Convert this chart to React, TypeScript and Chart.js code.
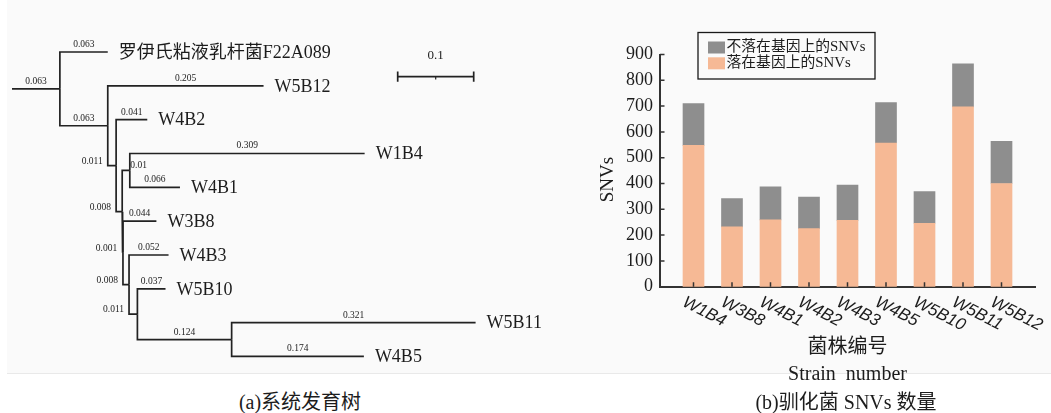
import React, { useEffect, useRef } from 'react';
import { Chart, registerables } from 'chart.js';
Chart.register(...registerables);

// ---------- Phylogenetic tree (a) ----------
const treeNodes = [
  'root', 'n1', '罗伊氏粘液乳杆菌F22A089', 'n2', 'W5B12', 'n3', 'W4B2', 'n4', 'n5',
  'W1B4', 'W4B1', 'n6', 'W3B8', 'n7', 'W4B3', 'n8', 'W5B10', 'n9', 'W5B11', 'W4B5',
];
const treeParents = [-1, 0, 1, 1, 3, 3, 5, 5, 7, 8, 8, 7, 11, 11, 13, 13, 15, 15, 17, 17];
const branchLengths = [
  0, 0.063, 0.063, 0.063, 0.205, 0.011, 0.041, 0.008, 0.01,
  0.309, 0.066, 0.001, 0.044, 0.008, 0.052, 0.011, 0.037, 0.124, 0.321, 0.174,
];
const branchLabelSide = [
  'none', 'above', 'above', 'above', 'above', 'left', 'above', 'left', 'right',
  'above', 'above', 'left', 'above', 'left', 'above', 'left', 'above', 'above', 'above', 'above',
];
const scaleBarLength = 0.1;

// ---------- SNV bar chart (b) ----------
const strains = ['W1B4', 'W3B8', 'W4B1', 'W4B2', 'W4B3', 'W4B5', 'W5B10', 'W5B11', 'W5B12'];
const genicSNVs = [548, 232, 259, 225, 257, 557, 246, 697, 400];
const nonGenicSNVs = [162, 110, 128, 122, 137, 157, 123, 167, 163];
const yMax = 900;
const yStep = 100;

const SERIF = '"Liberation Serif", "Noto Sans CJK SC", serif';
const INK = '#1c1c1c';

function layoutTree() {
  const n = treeNodes.length;
  const children: number[][] = treeNodes.map(() => []);
  treeParents.forEach((p, i) => { if (p >= 0) children[p].push(i); });
  const nx: number[] = new Array(n).fill(0);
  const ny: number[] = new Array(n).fill(0);
  for (let i = 0; i < n; i++) {
    const p = treeParents[i];
    nx[i] = p < 0 ? 0 : nx[p] + branchLengths[i];
  }
  let k = 0;
  for (let i = 0; i < n; i++) if (children[i].length === 0) ny[i] = k++;
  for (let i = n - 1; i >= 0; i--) {
    if (children[i].length) {
      const ys = children[i].map((c) => ny[c]);
      ny[i] = (Math.min(...ys) + Math.max(...ys)) / 2;
    }
  }
  return { children, nx, ny };
}

function TreeChart() {
  const ref = useRef<HTMLCanvasElement | null>(null);
  useEffect(() => {
    const { children, nx, ny } = layoutTree();
    const lineStyle = {
      showLine: true, pointRadius: 0, borderColor: '#222', borderWidth: 1.7,
      tension: 0, clip: false as any,
    };
    const datasets: any[] = [];
    treeNodes.forEach((_, i) => {
      const p = treeParents[i];
      if (p < 0) return;
      datasets.push({
        ...lineStyle,
        data: [
          { x: nx[p], y: ny[p] },
          { x: nx[p], y: ny[i] },
          { x: nx[i], y: ny[i] },
        ],
      });
    });
    // scale bar
    const sbX = 0.5075, sbY = 0.73;
    datasets.push({ ...lineStyle, data: [{ x: sbX, y: sbY }, { x: sbX + scaleBarLength, y: sbY }] });
    datasets.push({ ...lineStyle, data: [{ x: sbX, y: sbY - 0.15 }, { x: sbX, y: sbY + 0.15 }] });
    datasets.push({ ...lineStyle, data: [{ x: sbX + scaleBarLength, y: sbY - 0.15 }, { x: sbX + scaleBarLength, y: sbY + 0.15 }] });
    datasets.push({ ...lineStyle, borderWidth: 1.2, data: [{ x: sbX + scaleBarLength / 2, y: sbY }, { x: sbX + scaleBarLength / 2, y: sbY + 0.08 }] });

    const textPlugin = {
      id: 'treeText',
      afterDatasetsDraw(chart: any) {
        const { ctx } = chart;
        const xs = chart.scales.x, ys = chart.scales.y;
        ctx.save();
        ctx.fillStyle = INK;
        treeNodes.forEach((name, i) => {
          const px = xs.getPixelForValue(nx[i]);
          const py = ys.getPixelForValue(ny[i]);
          if (children[i].length === 0) {
            ctx.font = `18px ${SERIF}`;
            ctx.textAlign = 'left';
            ctx.textBaseline = 'middle';
            ctx.fillText(name, px + 11, py + 1);
          }
          const side = branchLabelSide[i];
          if (side === 'none') return;
          const p = treeParents[i];
          const sx = xs.getPixelForValue(nx[p]);
          const label = String(branchLengths[i]);
          ctx.font = `9.5px ${SERIF}`;
          ctx.textBaseline = 'middle';
          if (side === 'above') {
            ctx.textAlign = 'center';
            ctx.fillText(label, (sx + px) / 2, py - 7.5);
          } else if (side === 'left') {
            ctx.textAlign = 'right';
            ctx.fillText(label, sx - 5, py - 4.5);
          } else {
            ctx.textAlign = 'left';
            ctx.fillText(label, px + 0.5, py - 5);
          }
        });
        ctx.font = `13px ${SERIF}`;
        ctx.textAlign = 'center';
        ctx.textBaseline = 'middle';
        ctx.fillText(String(scaleBarLength), xs.getPixelForValue(sbX + scaleBarLength / 2), ys.getPixelForValue(sbY) - 21.5);
        ctx.restore();
      },
    };

    const chart = new Chart(ref.current as HTMLCanvasElement, {
      type: 'scatter',
      data: { datasets },
      options: {
        animation: false,
        responsive: false,
        layout: { padding: 0 },
        plugins: { legend: { display: false }, tooltip: { enabled: false } },
        scales: {
          x: { type: 'linear', display: false, min: -12 / 760, max: 548 / 760 },
          y: { type: 'linear', display: false, reverse: true, min: -52 / 33.83, max: 320 / 33.83 },
        },
      } as any,
      plugins: [textPlugin],
    });
    return () => chart.destroy();
  }, []);
  return (
    <canvas ref={ref} width={560} height={372}
      style={{ position: 'absolute', left: 0, top: 0, width: 560, height: 372 }} />
  );
}

function BarChart() {
  const ref = useRef<HTMLCanvasElement | null>(null);
  useEffect(() => {
    const decor = {
      id: 'decor',
      afterDraw(chart: any) {
        const { ctx, chartArea } = chart;
        const xs = chart.scales.x, ys = chart.scales.y;
        ctx.save();
        // inward tick marks
        ctx.strokeStyle = '#333';
        ctx.lineWidth = 1.5;
        ctx.beginPath();
        for (let v = yStep; v <= yMax; v += yStep) {
          const py = ys.getPixelForValue(v);
          ctx.moveTo(chartArea.left, py);
          ctx.lineTo(chartArea.left + 4.5, py);
        }
        strains.forEach((_, i) => {
          const px = xs.getPixelForValue(i);
          ctx.moveTo(px, chartArea.bottom);
          ctx.lineTo(px, chartArea.bottom - 4.5);
        });
        ctx.stroke();
        // rotated category labels
        ctx.fillStyle = INK;
        ctx.font = 'italic 17px "Liberation Sans", sans-serif';
        ctx.textAlign = 'left';
        ctx.textBaseline = 'top';
        strains.forEach((s, i) => {
          const px = xs.getPixelForValue(i);
          ctx.save();
          ctx.translate(px - 6, chartArea.bottom + 7);
          ctx.rotate((27 * Math.PI) / 180);
          ctx.fillText(s, 0, 0);
          ctx.restore();
        });
        // y title
        ctx.save();
        ctx.translate(chartArea.left - 52, chartArea.top + 125);
        ctx.rotate(-Math.PI / 2);
        ctx.font = `19px ${SERIF}`;
        ctx.textAlign = 'center';
        ctx.textBaseline = 'middle';
        ctx.fillText('SNVs', 0, 0);
        ctx.restore();
        // legend box
        const bx = chartArea.left + 38, by = 32.5, bw = 177, bh = 46.5;
        ctx.strokeStyle = '#1a1a1a';
        ctx.lineWidth = 1.3;
        ctx.strokeRect(bx, by, bw, bh);
        const items = [...chart.data.datasets].reverse();
        ctx.font = `14.8px ${SERIF}`;
        ctx.textBaseline = 'middle';
        items.forEach((ds: any, j: number) => {
          const cy = by + 15 + j * 15.8;
          ctx.fillStyle = ds.backgroundColor;
          ctx.fillRect(bx + 10, cy - 6, 17, 12);
          ctx.fillStyle = INK;
          ctx.fillText(ds.label, bx + 28.5, cy);
        });
        ctx.restore();
      },
    };

    const chart = new Chart(ref.current as HTMLCanvasElement, {
      type: 'bar',
      data: {
        datasets: [
          {
            label: '落在基因上的SNVs',
            data: strains.map((_, i) => ({ x: i, y: genicSNVs[i] })),
            backgroundColor: '#f6b995',
            barThickness: 21,
          },
          {
            label: '不落在基因上的SNVs',
            data: strains.map((_, i) => ({ x: i, y: nonGenicSNVs[i] })),
            backgroundColor: '#8e8e8e',
            barThickness: 21,
          },
        ],
      },
      options: {
        animation: false,
        responsive: false,
        layout: { padding: { left: 0, top: 54.5, right: 16, bottom: 0 } },
        plugins: { legend: { display: false }, tooltip: { enabled: false } },
        scales: {
          x: {
            type: 'linear',
            min: -0.87,
            max: 8.87,
            offset: false,
            stacked: true,
            z: 1,
            grid: { display: false, drawTicks: false },
            border: { display: true, color: '#333', width: 2 },
            ticks: { display: false },
            afterFit: (s: any) => { s.height = 126.3; },
            title: {
              display: true,
              text: ['菌株编号', 'Strain  number'],
              color: INK,
              font: { family: SERIF, size: 20, lineHeight: 1.35 },
              padding: { top: 0, bottom: 24.5 },
            },
          },
          y: {
            type: 'linear',
            min: 0,
            max: yMax,
            stacked: true,
            z: 1,
            grid: { display: false, drawTicks: false },
            border: { display: true, color: '#333', width: 2 },
            ticks: { stepSize: yStep, padding: 7, color: INK, font: { family: SERIF, size: 18 } },
            afterFit: (s: any) => { s.width = 100; },
          },
        },
      } as any,
      plugins: [decor],
    });
    return () => chart.destroy();
  }, []);
  return (
    <canvas ref={ref} width={491} height={413}
      style={{ position: 'absolute', left: 560, top: 0, width: 491, height: 413 }} />
  );
}

export default function App() {
  const caption: React.CSSProperties = {
    position: 'absolute', top: 390, fontFamily: SERIF, fontSize: 20, lineHeight: '24px',
    color: INK, whiteSpace: 'nowrap', transform: 'translateX(-50%)',
  };
  return (
    <div style={{ position: 'fixed', left: 0, top: 0, width: 1051, height: 413, background: '#fff', overflow: 'hidden' }}>
      <div style={{ position: 'absolute', left: 7, top: 0, width: 1044, height: 373, background: '#fafafa', borderBottom: '1px solid #e9e9e9' }} />
      <TreeChart />
      <BarChart />
      <div style={{ ...caption, left: 300 }}>(a)系统发育树</div>
      <div style={{ ...caption, left: 846 }}>(b)驯化菌 SNVs 数量</div>
    </div>
  );
}
